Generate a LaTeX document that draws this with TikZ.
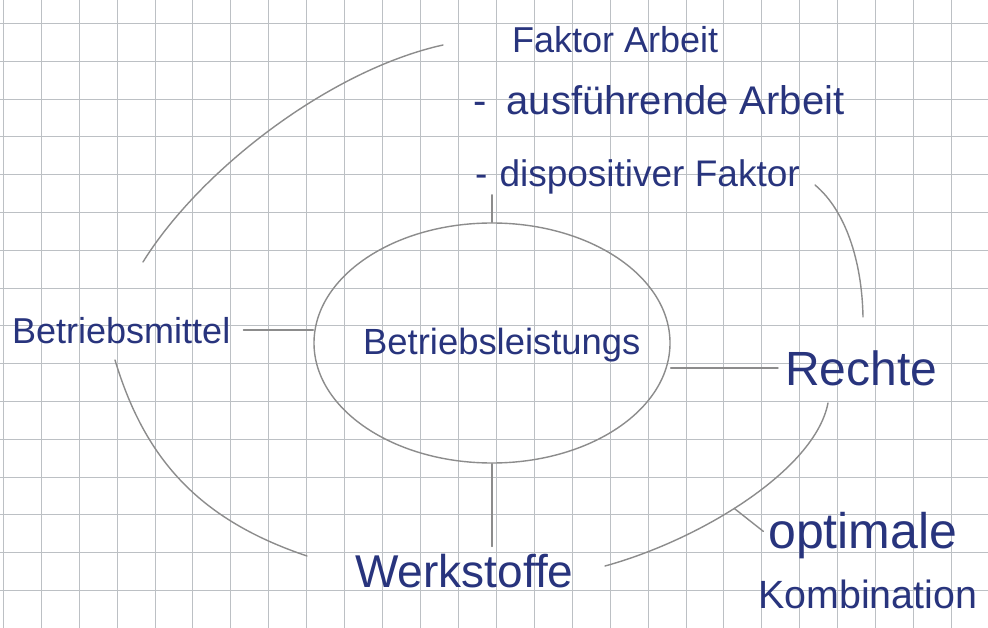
\documentclass[tikz,border=0pt]{standalone}
\usepackage{fontspec}
\setmainfont{Liberation Sans}
\usetikzlibrary{shapes.geometric}
\definecolor{ink}{RGB}{40,52,125}
\definecolor{pencil}{RGB}{140,140,140}
\definecolor{gridc}{RGB}{188,192,196}
\newcommand\myfs[1]{\fontsize{#1}{#1}\selectfont}
\begin{document}
\begin{tikzpicture}[x=1pt,y=-1pt,
  hand/.style={text=ink, inner sep=0pt, anchor=base west},
  pen/.style={draw=pencil, line width=1.4pt, line cap=round, line join=round},
  gridline/.style={draw=gridc, line width=1pt}]
\useasboundingbox (0,0) rectangle (988,628);
\fill[white] (0,0) rectangle (988,628);
% graph paper
\foreach \i in {0,...,26} \draw[gridline] ({3.3+37.93*\i},0) -- ({3.3+37.93*\i},628);
\foreach \j in {0,...,16} \draw[gridline] (0,{23.5+37.8*\j}) -- (988,{23.5+37.8*\j});

% texts
\node[hand, font={\myfs{36}}] (fa) at (512,53) {Faktor Arbeit};
\node[hand, font={\myfs{40}}] (aus) at (473,115) {-\kern20pt ausführende Arbeit};
\node[hand, font={\myfs{37}}] (disp) at (475,187) {-\kern12pt dispositiver Faktor};
\node[hand, font={\myfs{36}}] (bm) at (12,343) {Betriebsmittel};
\node[pen, ellipse, minimum width=356pt, minimum height=240pt, inner sep=0pt] (core) at (492,343) {};
\node[hand, font={\myfs{36.4}}] (coretext) at (363,355) {Betriebsleistungs};
\node[hand, font={\myfs{48}}] (rechte) at (785,385) {Rechte};
\node[hand, font={\myfs{46}}] (werk) at (355,587) {Werkstoffe};
\node[hand, font={\myfs{50}}] (opt) at (768,548) {optimale};
\node[hand, font={\myfs{39.4}}] (komb) at (758,608) {Kombination};

% connectors to the centre
\draw[pen, shorten <=13pt] (bm.east) -- (bm.east -| core.west);
\draw[pen, shorten >=7pt] (rechte.west -| core.east) -- (rechte.west);
\draw[pen, shorten >=7pt] (core.south) -- (core.south |- werk.north);
\draw[pen] (core.north) -- (core.north |- disp.south);

% outer ring arcs
\draw[pen] (143,262) .. controls (200,170) and (330,70) .. (443,45);
\draw[pen] (815,185) .. controls (845,210) and (862,260) .. (863,317);
\draw[pen] (115,360) .. controls (145,460) and (200,520) .. (307,556);
\draw[pen] (605,566) .. controls (700,540) and (815,470) .. (828,403)
  coordinate[pos=0.45] (tk);

% tick to optimale Kombination
\draw[pen, shorten >=6pt] (tk) -- (opt.west);
\end{tikzpicture}
\end{document}
